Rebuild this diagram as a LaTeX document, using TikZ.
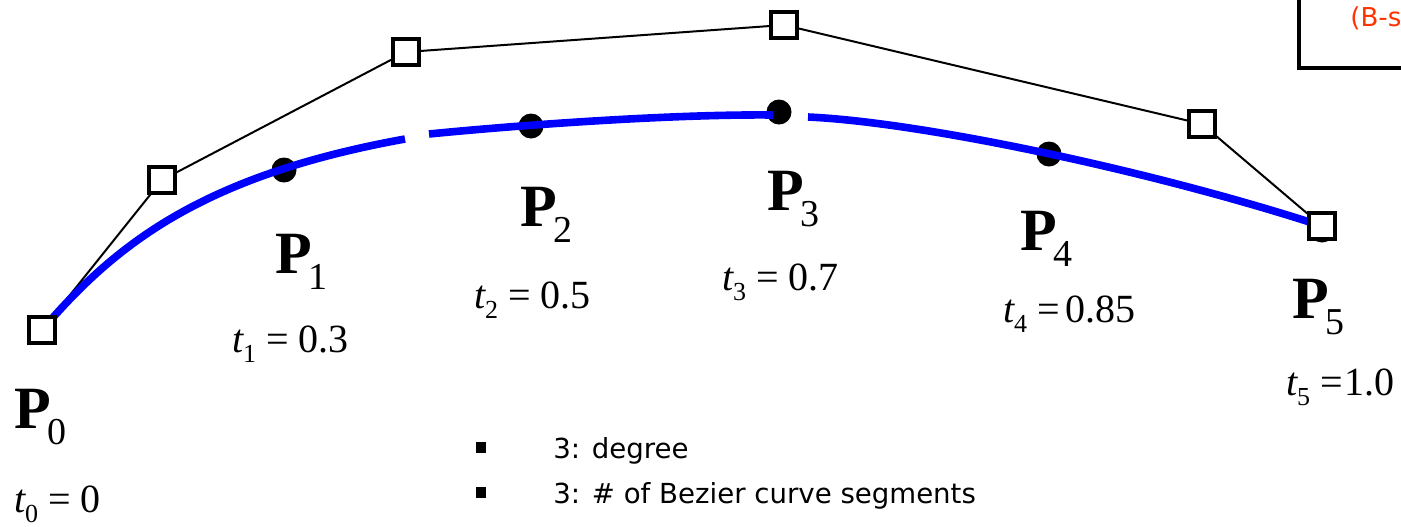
\documentclass[tikz,border=0pt]{standalone}
\usepackage{fontspec}
\setmainfont{Liberation Serif}
\newfontfamily\bulletfont{DejaVu Sans}
\definecolor{labelred}{RGB}{255,51,0}
\definecolor{curveblue}{RGB}{0,0,255}
\newcommand{\Plabel}[1]{{\fontsize{30pt}{30pt}\selectfont\bfseries P}\kern-1.5pt\raisebox{-8pt}{\fontsize{19pt}{19pt}\selectfont #1}}
\newcommand{\Tlabel}[3]{{\fontsize{20pt}{20pt}\selectfont\itshape t}\raisebox{-5pt}{\fontsize{13pt}{13pt}\selectfont #1}{\fontsize{20pt}{20pt}\selectfont\ =\hspace{#3}#2}}
\begin{document}
\begin{tikzpicture}[x=0.5pt,y=-0.5pt,
  ctrl/.style={draw=black,fill=white,line width=2pt,minimum size=13pt,inner sep=0pt,rectangle},
  knot/.style={fill=black,circle,minimum size=12.5pt,inner sep=0pt},
  polyline/.style={draw=black,line width=1pt},
  spline/.style={draw=curveblue,line width=3.8pt},
  lab/.style={anchor=base west,inner sep=0pt,outer sep=0pt},
  bul/.style={fill=black,rectangle,minimum width=5pt,minimum height=5.5pt,inner sep=0pt},
  bultext/.style={anchor=base west,inner sep=0pt,font=\bulletfont\fontsize{13.8pt}{16pt}\selectfont}]
\useasboundingbox (0,0) rectangle (1401,526);
\clip (0,0) rectangle (1401,526);
% control points (positions only)
\coordinate (k0) at (42,330);
\coordinate (k1) at (162,180);
\coordinate (k2) at (406,52);
\coordinate (k3) at (784,25);
\coordinate (k4) at (1202,124);
\coordinate (k5) at (1322,226);
% control polygon
\draw[polyline] (k0) -- (k1) -- (k2) -- (k3) -- (k4) -- (k5);
% knot dots
\node[knot] (d1) at (284,170) {};
\node[knot] (d2) at (531,126) {};
\node[knot] (d3) at (779,112) {};
\node[knot] (d4) at (1049,154) {};
\node[knot] (d5) at (1322,230) {};
% blue curve in three pieces
\coordinate (g1) at (405,139);
\coordinate (g2) at (429,134);
\coordinate (g3) at (773,115);
\coordinate (g4) at (808,117);
\draw[spline] (k0) .. controls (114,246) and (200,176) .. (g1);
\draw[spline] (g2) .. controls (530,124) and (680,114) .. (g3);
\draw[spline] (g4) .. controls (920,122) and (1150,170) .. (k5);
% control squares
\node[ctrl] (c0) at (k0) {};
\node[ctrl] (c1) at (k1) {};
\node[ctrl] (c2) at (k2) {};
\node[ctrl] (c3) at (k3) {};
\node[ctrl] (c4) at (k4) {};
\node[ctrl] (c5) at (k5) {};
% labels
\node[lab] (p0) at (14,428) {\Plabel{0}};
\node[lab] (p1) at (275,273) {\Plabel{1}};
\node[lab] (p2) at (520,226) {\Plabel{2}};
\node[lab] (p3) at (767,210) {\Plabel{3}};
\node[lab] (p4) at (1020,250) {\Plabel{4}};
\node[lab] (p5) at (1292,318) {\Plabel{5}};
\node[lab] (t0) at (14,512) {\Tlabel{0}{0}{5pt}};
\node[lab] (t1) at (232,352) {\Tlabel{1}{0.3}{5pt}};
\node[lab] (t2) at (474,308) {\Tlabel{2}{0.5}{5pt}};
\node[lab] (t3) at (722,290) {\Tlabel{3}{0.7}{5pt}};
\node[lab] (t4) at (1003,322) {\Tlabel{4}{0.85}{3pt}};
\node[lab] (t5) at (1286,395) {\Tlabel{5}{1.0}{1pt}};
% top-right box
\draw[line width=2pt] (1299,-10) -- (1299,68) -- (1420,68);
\node[anchor=base west,inner sep=0pt,text=labelred,font=\bulletfont\fontsize{13pt}{16pt}\selectfont] (bs) at (1350,26) {(B-s};
% bullets
\node[bul] (b1) at (481,447) {};
\node[bul] (b2) at (481,492) {};
\node[bultext] (bt1) at (553,458) {3: degree};
\node[bultext] (bt2) at (553,503) {3: \# of Bezier curve segments};
\end{tikzpicture}
\end{document}
